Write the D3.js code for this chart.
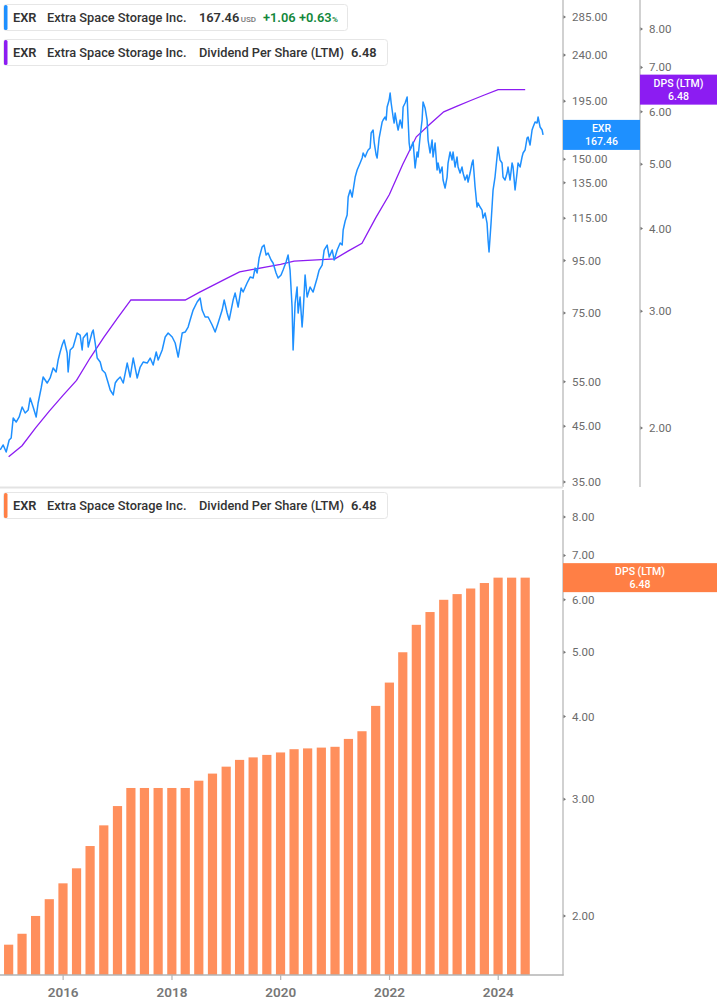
<!DOCTYPE html>
<html><head><meta charset="utf-8">
<script src="https://cdn.jsdelivr.net/npm/d3@7"></script>
<style>
body{margin:0;background:#fff;}
svg{display:block;font-family:Roboto,"Noto Sans",sans-serif;}
</style>
</head><body>
<svg id="chart" width="717" height="1005"></svg>
<script>
// ---------- DATA ----------
const ticker = "EXR";
const company = "Extra Space Storage Inc.";
const lastPrice = 167.46, priceChange = 1.06, pctChange = 0.63;
const lastDps = 6.48;

// EXR close price, dates as decimal years
const priceYears = [2014.842,2014.897,2014.952,2015.007,2015.044,2015.081,2015.136,2015.191,2015.246,2015.301,2015.357,2015.393,2015.448,2015.504,2015.540,2015.596,2015.632,2015.706,2015.761,2015.816,2015.871,2015.908,2015.945,2015.982,2016.018,2016.074,2016.092,2016.129,2016.184,2016.257,2016.312,2016.349,2016.368,2016.441,2016.460,2016.533,2016.552,2016.588,2016.625,2016.680,2016.717,2016.772,2016.827,2016.864,2016.919,2016.956,2016.993,2017.048,2017.103,2017.176,2017.231,2017.287,2017.360,2017.415,2017.470,2017.544,2017.599,2017.654,2017.710,2017.746,2017.820,2017.875,2017.930,2018.004,2018.059,2018.114,2018.188,2018.243,2018.297,2018.334,2018.389,2018.463,2018.518,2018.555,2018.610,2018.665,2018.739,2018.794,2018.849,2018.923,2018.960,2019.015,2019.052,2019.125,2019.162,2019.217,2019.272,2019.309,2019.382,2019.438,2019.493,2019.529,2019.566,2019.603,2019.658,2019.695,2019.732,2019.768,2019.823,2019.860,2019.915,2019.952,2020.007,2020.044,2020.099,2020.136,2020.172,2020.209,2020.228,2020.265,2020.301,2020.320,2020.356,2020.393,2020.412,2020.448,2020.485,2020.540,2020.595,2020.669,2020.706,2020.761,2020.798,2020.853,2020.890,2020.945,2020.982,2021.037,2021.092,2021.129,2021.147,2021.184,2021.220,2021.239,2021.276,2021.312,2021.331,2021.368,2021.404,2021.459,2021.496,2021.515,2021.551,2021.588,2021.607,2021.643,2021.662,2021.698,2021.717,2021.754,2021.772,2021.809,2021.864,2021.882,2021.919,2021.938,2021.956,2021.993,2022.011,2022.030,2022.066,2022.085,2022.103,2022.140,2022.158,2022.195,2022.232,2022.250,2022.287,2022.324,2022.342,2022.361,2022.379,2022.434,2022.471,2022.507,2022.526,2022.562,2022.599,2022.617,2022.654,2022.691,2022.709,2022.746,2022.783,2022.801,2022.838,2022.875,2022.893,2022.930,2022.967,2022.985,2023.022,2023.059,2023.077,2023.114,2023.151,2023.169,2023.206,2023.242,2023.261,2023.298,2023.334,2023.353,2023.390,2023.426,2023.445,2023.482,2023.518,2023.537,2023.574,2023.610,2023.629,2023.666,2023.702,2023.721,2023.758,2023.794,2023.813,2023.831,2023.868,2023.886,2023.905,2023.941,2023.978,2023.996,2024.033,2024.070,2024.088,2024.125,2024.162,2024.180,2024.217,2024.254,2024.272,2024.309,2024.345,2024.364,2024.401,2024.437,2024.456,2024.492,2024.529,2024.548,2024.584,2024.621,2024.640,2024.676,2024.713,2024.731,2024.768,2024.805,2024.823];
const priceValues = [40.44,41.36,40.08,42.30,42.68,46.71,45.87,46.93,49.09,47.78,48.43,51.12,49.09,46.93,49.98,53.48,56.20,54.69,55.95,58.52,57.48,60.67,62.90,64.92,66.40,62.62,57.48,63.47,64.34,68.53,67.91,63.47,67.00,68.53,64.34,68.84,69.46,65.51,61.22,60.13,58.00,57.22,54.69,53.00,51.82,54.69,55.44,56.20,54.69,59.85,56.20,61.22,55.95,58.78,60.13,59.85,61.22,59.32,62.90,60.67,63.47,67.30,68.53,67.30,65.51,61.50,68.53,68.84,70.40,72.66,76.01,78.81,80.24,76.01,73.65,73.65,71.04,68.84,71.68,76.01,79.52,74.99,72.66,79.52,82.07,77.05,83.95,82.44,85.86,88.21,87.81,91.86,89.82,96.10,100.99,101.91,97.41,98.29,95.24,93.96,89.82,87.81,89.01,91.04,94.39,97.41,91.04,77.05,63.47,78.45,84.33,74.99,80.61,70.40,74.99,89.01,80.61,84.33,82.44,87.81,91.04,93.12,99.63,101.91,96.53,99.63,95.24,99.63,102.83,101.91,109.04,113.56,116.67,126.54,130.60,126.54,130.60,138.49,142.93,147.52,150.89,154.33,151.57,155.03,156.43,157.84,168.89,171.19,162.17,152.94,150.89,165.12,177.48,179.09,181.53,179.09,189.91,196.00,202.29,193.37,181.53,176.68,184.83,175.10,171.19,179.09,172.74,189.91,193.37,198.67,179.09,161.44,156.43,162.17,144.23,155.03,151.57,165.87,179.09,194.24,189.06,179.09,163.64,154.33,163.64,151.57,161.44,142.93,147.52,141.01,144.88,136.63,131.79,138.49,147.52,155.03,149.53,155.03,144.88,151.57,144.88,141.01,144.88,141.01,136.63,139.74,135.40,141.01,147.52,149.53,132.39,120.96,123.16,120.96,119.33,115.10,117.73,112.54,104.23,98.73,112.54,120.96,130.60,138.49,151.57,158.56,149.53,147.52,138.49,136.63,141.01,144.88,136.63,147.52,144.88,130.60,141.01,147.52,144.88,151.57,154.33,156.43,165.12,165.87,159.99,171.19,173.53,177.48,176.68,181.53,173.53,171.19,167.46];

// Dividend per share (LTM), quarterly
const dpsDates = ["2014-12-31","2015-03-31","2015-06-30","2015-09-30","2015-12-31","2016-03-31","2016-06-30","2016-09-30","2016-12-31","2017-03-31","2017-06-30","2017-09-30","2017-12-31","2018-03-31","2018-06-30","2018-09-30","2018-12-31","2019-03-31","2019-06-30","2019-09-30","2019-12-31","2020-03-31","2020-06-30","2020-09-30","2020-12-31","2021-03-31","2021-06-30","2021-09-30","2021-12-31","2022-03-31","2022-06-30","2022-09-30","2022-12-31","2023-03-31","2023-06-30","2023-09-30","2023-12-31","2024-03-31","2024-06-30"];
const dpsValues = [1.81,1.88,2.00,2.12,2.24,2.36,2.55,2.74,2.93,3.12,3.12,3.12,3.12,3.12,3.20,3.28,3.36,3.44,3.47,3.50,3.53,3.57,3.58,3.59,3.60,3.70,3.80,4.15,4.50,5.00,5.50,5.75,6.00,6.12,6.24,6.36,6.48,6.48,6.48];

const priceTicks = [35,45,55,75,95,115,135,150,195,240,285];
const dpsTicks = [2,3,4,5,6,7,8];
const yearTicks = [2016,2018,2020,2022,2024];

// ---------- HELPERS ----------
function yearFracToDate(t){
  const y = Math.floor(t);
  const s = Date.UTC(y,0,1), e = Date.UTC(y+1,0,1);
  return new Date(s + (t-y)*(e-s));
}
const parse = d3.utcParse("%Y-%m-%d");
const n = Math.min(priceYears.length, priceValues.length);
const priceData = d3.range(n).map(i => ({date: yearFracToDate(priceYears[i]), v: priceValues[i]}));
const dpsData = dpsDates.map((d,i) => ({date: parse(d), v: dpsValues[i]}));

const COL_BLUE = "#1e90ff", COL_PURPLE = "#8c1cf2", COL_ORANGE = "#ff8f5c", COL_ORANGE_BOX = "#ff7f45";
const AXIS_COL = "#b3b3b3", LABEL_COL = "#6b6b6b", TEXT_COL = "#333";

const svg = d3.select("#chart");

// ---------- SCALES ----------
const plotRight = 563;
const x = d3.scaleUtc().domain([Date.UTC(2014,10,3), Date.UTC(2025,2,11)]).range([0, plotRight]);
const yPrice = d3.scaleLog().domain([34.22, 307.7]).range([487, 0]);
const yDpsTop = d3.scaleLog().domain([1.629, 8.848]).range([487, 0]);
const yDpsBot = d3.scaleLog().domain([1.629, 8.787]).range([975, 490]);

// ---------- TOP PANEL ----------
const gTop = svg.append("g");
gTop.append("defs").append("clipPath").attr("id","clipTop")
  .append("rect").attr("x",0).attr("y",0).attr("width",plotRight).attr("height",487);

const gTopPlot = gTop.append("g").attr("clip-path","url(#clipTop)");
gTopPlot.append("path").datum(dpsData)
  .attr("fill","none").attr("stroke",COL_PURPLE).attr("stroke-width",1.3)
  .attr("d", d3.line().x(d=>x(d.date)).y(d=>yDpsTop(d.v)));
gTopPlot.append("path").datum(priceData)
  .attr("fill","none").attr("stroke",COL_BLUE).attr("stroke-width",1.5).attr("stroke-linejoin","round")
  .attr("d", d3.line().x(d=>x(d.date)).y(d=>yPrice(d.v)));

// axis lines
gTop.append("line").attr("x1",plotRight).attr("x2",plotRight).attr("y1",0).attr("y2",487).attr("stroke",AXIS_COL).attr("stroke-width",1.2);
gTop.append("line").attr("x1",640).attr("x2",640).attr("y1",0).attr("y2",487).attr("stroke",AXIS_COL).attr("stroke-width",1.2);
// separator
svg.append("line").attr("x1",0).attr("x2",plotRight).attr("y1",487.5).attr("y2",487.5).attr("stroke","#e3e3e3").attr("stroke-width",2);

function rightTicks(g, scale, ticks, x0){
  const t = g.selectAll(null).data(ticks).enter().append("g").attr("transform", d=>`translate(${x0},${scale(d)})`);
  t.append("path").attr("d","M0.5,-1.8L3,0L0.5,1.8Z").attr("fill","#777");
  t.append("text").attr("x",9).attr("dy","0.35em").attr("font-size","11.5px").attr("fill",LABEL_COL)
    .text(d=>d3.format(".2f")(d));
}
rightTicks(gTop, yPrice, priceTicks, plotRight);
rightTicks(gTop, yDpsTop, dpsTicks, 640);

// value boxes
function valueBox(g, x0, w, yc, h, fill, l1, l2){
  g.append("rect").attr("x",x0).attr("y",yc-h/2).attr("width",w).attr("height",h).attr("fill",fill);
  [[l1,-6.2],[l2,6.2]].forEach(([s,dy])=>{
    g.append("text").attr("x",x0+w/2).attr("y",yc+dy).attr("dy","0.35em").attr("text-anchor","middle")
      .attr("fill","#fff").attr("font-size","10.5px").attr("font-weight",500).text(s);
  });
}
valueBox(gTop, plotRight, 77, yPrice(lastPrice), 30, COL_BLUE, ticker, d3.format(".2f")(lastPrice));
valueBox(gTop, 640, 77, yDpsTop(lastDps), 30, COL_PURPLE, "DPS (LTM)", d3.format(".2f")(lastDps));

// ---------- BOTTOM PANEL ----------
const gBot = svg.append("g");
gBot.selectAll(null).data(dpsData).enter().append("rect")
  .attr("x", d=>x(d.date)-4.6).attr("width",9.2)
  .attr("y", d=>yDpsBot(d.v)).attr("height", d=>975-yDpsBot(d.v))
  .attr("fill",COL_ORANGE);
gBot.append("line").attr("x1",plotRight).attr("x2",plotRight).attr("y1",490).attr("y2",975.5).attr("stroke",AXIS_COL).attr("stroke-width",1.2);
gBot.append("line").attr("x1",0).attr("x2",plotRight+0.6).attr("y1",975).attr("y2",975).attr("stroke",AXIS_COL).attr("stroke-width",1.4);
rightTicks(gBot, yDpsBot, dpsTicks, plotRight);
valueBox(gBot, plotRight, 154, yDpsBot(lastDps), 29, COL_ORANGE_BOX, "DPS (LTM)", d3.format(".2f")(lastDps));

const xt = gBot.selectAll(null).data(yearTicks).enter().append("g")
  .attr("transform", d=>`translate(${x(Date.UTC(d,0,1))},975)`);
xt.append("line").attr("y1",0).attr("y2",5).attr("stroke",AXIS_COL).attr("stroke-width",1.2);
xt.append("text").attr("y",22).attr("text-anchor","middle").attr("font-size","13.5px").attr("font-weight",600)
  .attr("fill","#777").text(d=>d);

// ---------- LEGENDS ----------
function legend(y0, w, color, parts){
  const g = svg.append("g");
  g.append("rect").attr("x",3.5).attr("y",y0+0.5).attr("width",w).attr("height",26).attr("rx",3)
    .attr("fill","#fff").attr("stroke","#e6e6e6");
  g.append("rect").attr("x",4).attr("y",y0+1).attr("width",3.5).attr("height",25).attr("rx",1.5).attr("fill",color);
  const t = g.append("text").attr("y",y0+17.5).attr("font-size","12.8px").attr("fill",TEXT_COL);
  parts.forEach(p=>{
    const s = t.append("tspan").text(p.t);
    if(p.x!=null) s.attr("x",p.x);
    if(p.dx!=null) s.attr("dx",p.dx);
    if(p.w) s.attr("font-weight",p.w);
    if(p.fs) s.attr("font-size",p.fs);
    if(p.c) s.attr("fill",p.c);
  });
}
legend(4, 344, COL_BLUE, [
  {x:13,t:ticker,w:600},{x:47,t:company,w:500},
  {x:199,t:d3.format(".2f")(lastPrice),w:600},
  {dx:1.5,t:"USD",fs:"8px",c:"#777",w:500},
  {x:263,t:"+"+d3.format(".2f")(priceChange),w:600,c:"#12873a"},
  {x:299,t:"+"+d3.format(".2f")(pctChange),w:600,c:"#12873a"},
  {dx:0.5,t:"%",fs:"8px",c:"#12873a",w:600}
]);
legend(39, 384, COL_PURPLE, [
  {x:13,t:ticker,w:600},{x:47,t:company,w:500},{x:199,t:"Dividend Per Share (LTM)",w:500},
  {x:351,t:d3.format(".2f")(lastDps),w:600}
]);
legend(492, 384, COL_ORANGE_BOX, [
  {x:13,t:ticker,w:600},{x:47,t:company,w:500},{x:199,t:"Dividend Per Share (LTM)",w:500},
  {x:351,t:d3.format(".2f")(lastDps),w:600}
]);
</script>
</body></html>
